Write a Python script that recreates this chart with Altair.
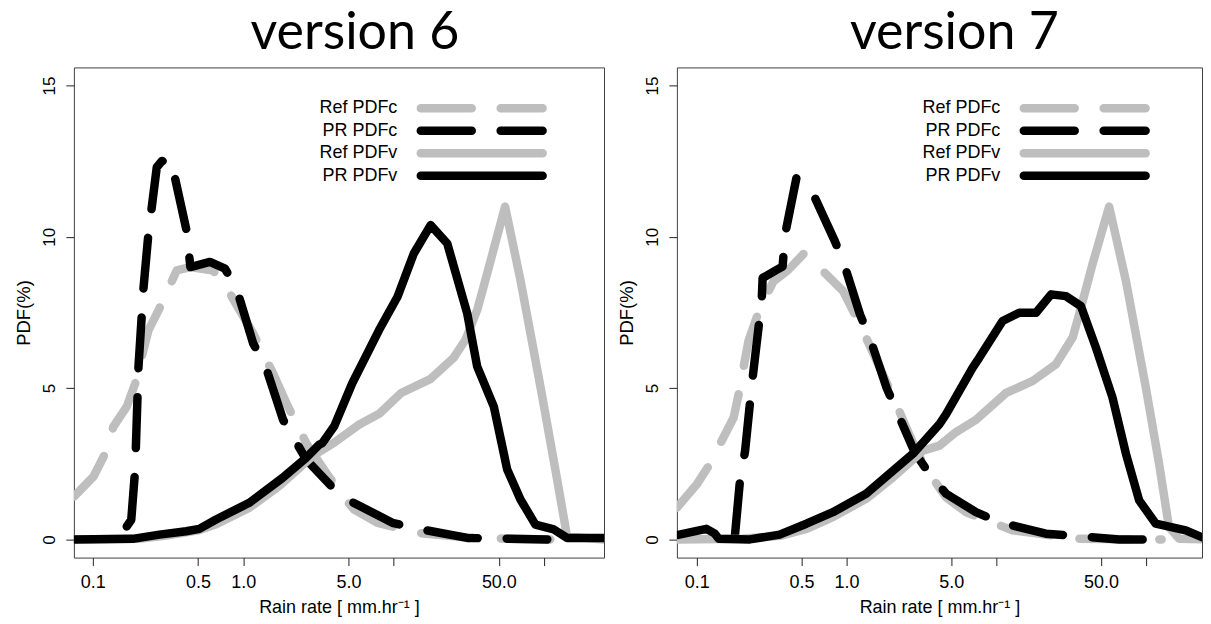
import altair as alt
import pandas as pd

# ---------------- data ----------------
series_names = ["Ref PDFc", "PR PDFc", "Ref PDFv", "PR PDFv"]

# version 6
v6_ref_c_x = [0.075, 0.101, 0.118, 0.137, 0.168, 0.191, 0.234, 0.273, 0.361, 0.443, 0.632, 0.817,
              1.165, 1.58, 1.94, 2.63, 3.57, 4.61, 5.45, 7.8, 14.3, 30, 60, 110]
v6_ref_c_y = [1.42, 2.08, 2.74, 3.73, 4.39, 5.15, 6.91, 7.57, 8.89, 9.0, 8.89, 8.12,
              6.8, 5.48, 4.49, 3.17, 2.19, 1.42, 0.99, 0.55, 0.22, 0.07, 0.02, 0.0]

v6_pr_c_x = [0.168, 0.18, 0.191, 0.201, 0.217, 0.234, 0.266, 0.287, 0.33, 0.42, 0.445, 0.6, 0.756,
             0.903, 1.165, 1.39, 1.84, 2.63, 4.45, 9.8, 13.6, 30.8, 105]
v6_pr_c_y = [0.43, 0.65, 2.3, 5.7, 8.3, 10.1, 12.3, 12.5, 12.57, 10.2, 9.0, 9.17, 8.95,
             8.28, 6.47, 5.8, 3.95, 2.63, 1.43, 0.55, 0.38, 0.05, 0.0]

v6_ref_v_x = [0.075, 0.2, 0.3, 0.5, 0.66, 1.1, 1.73, 2.88, 4.02, 5.9, 8.0, 11.2, 17.5, 25, 30, 36,
              44, 55, 69.6, 94.5, 122, 142, 250]
v6_ref_v_y = [0.0, 0.02, 0.12, 0.3, 0.5, 1.05, 1.76, 2.75, 3.2, 3.8, 4.15, 4.84, 5.3, 6.0, 6.6, 7.6,
              9.2, 11.0, 8.57, 5.05, 1.98, 0.1, 0.0]

v6_pr_v_x = [0.075, 0.184, 0.277, 0.417, 0.51, 0.659, 1.096, 1.82, 2.61, 3.19, 3.36, 4.02, 5.31,
             6.68, 7.99, 10.6, 13.6, 17.6, 22.7, 30.8, 35.9, 46.3, 56.8, 69.6, 87.5, 116, 142, 250]
v6_pr_v_y = [0.0, 0.02, 0.16, 0.27, 0.35, 0.66, 1.21, 2.03, 2.69, 3.13, 3.19, 3.74, 5.17,
             6.15, 6.92, 8.02, 9.45, 10.39, 9.78, 7.47, 5.71, 4.39, 2.31, 1.32, 0.49, 0.33, 0.05, 0.05]

# version 7
v7_ref_c_x = [0.0736, 0.1, 0.12, 0.176, 0.19, 0.221, 0.264, 0.325, 0.408, 0.52, 0.699, 0.95, 1.23,
              1.67, 2.15, 2.93, 3.59, 4.64, 6.28, 12.8, 35.7, 127]
v7_ref_c_y = [1.05, 1.82, 2.43, 4.02, 4.79, 6.55, 7.65, 8.53, 8.91, 9.45, 8.86, 8.2, 7.1,
              5.67, 4.46, 2.92, 2.15, 1.38, 0.9, 0.3, 0.02, 0.0]

v7_pr_c_x = [0.18, 0.194, 0.21, 0.233, 0.258, 0.271, 0.275, 0.341, 0.374, 0.388, 0.462, 0.58,
             0.836, 0.95, 1.23, 1.43, 1.85, 2.21, 2.85, 3.57, 4.62, 7.31, 10.5, 21.4, 66, 127]
v7_pr_c_y = [0.17, 1.93, 2.92, 5.12, 6.99, 7.87, 8.64, 8.91, 9.02, 10.07, 11.94, 11.56,
             9.85, 9.19, 7.43, 6.66, 5.01, 4.13, 2.88, 2.17, 1.51, 0.9, 0.57, 0.19, 0.0, 0.0]

v7_ref_v_x = [0.075, 0.2, 0.36, 0.54, 0.81, 1.35, 2.04, 3.23, 4.17, 5.38, 7.3, 11.6, 17.5, 25,
              32.3, 35.7, 43.8, 56.6, 73.3, 99.5, 122, 142, 166, 250]
v7_ref_v_y = [0.0, 0.02, 0.12, 0.35, 0.74, 1.34, 2.05, 2.93, 3.1, 3.55, 3.95, 4.84, 5.24, 5.79,
              6.67, 7.44, 9.09, 11.0, 8.54, 5.02, 2.5, 0.41, 0.02, 0.0]

v7_pr_v_x = [0.075, 0.1, 0.116, 0.132, 0.14, 0.226, 0.357, 0.539, 0.81, 1.35, 2.04, 2.77, 4.17,
             4.62, 6.95, 7.7, 11.0, 14.2, 18.4, 23.2, 29.1, 36.7, 46.2, 59.6, 73.3, 89.8, 116,
             184, 250]
v7_pr_v_y = [0.15, 0.28, 0.35, 0.19, 0.02, 0.0, 0.16, 0.52, 0.9, 1.51, 2.27, 2.83, 3.81,
             4.14, 5.68, 6.01, 7.22, 7.49, 7.49, 8.1, 8.04, 7.71, 6.34, 4.69, 2.83, 1.29, 0.52,
             0.3, 0.02]

x_tick_values = [0.1, 0.5, 1, 5, 10, 50, 100]
y_tick_values = [0, 5, 10, 15]
panel_titles = ["version 6", "version 7"]

panels_data = [
    {"Ref PDFc": (v6_ref_c_x, v6_ref_c_y), "PR PDFc": (v6_pr_c_x, v6_pr_c_y),
     "Ref PDFv": (v6_ref_v_x, v6_ref_v_y), "PR PDFv": (v6_pr_v_x, v6_pr_v_y)},
    {"Ref PDFc": (v7_ref_c_x, v7_ref_c_y), "PR PDFc": (v7_pr_c_x, v7_pr_c_y),
     "Ref PDFv": (v7_ref_v_x, v7_ref_v_y), "PR PDFv": (v7_pr_v_x, v7_pr_v_y)},
]

# ---------------- styling ----------------
GRAY = "#bebebe"
styles = {
    "Ref PDFc": (GRAY, True),
    "PR PDFc": ("black", True),
    "Ref PDFv": (GRAY, False),
    "PR PDFv": ("black", False),
}
DASH = [51, 29]
LW = 8.5
FONT = "Liberation Sans"
H = 491
WIDTHS = [531, 526]
XDOMS = [[0.0748, 250], [0.0736, 236]]
YDOM = [-0.6, 15.6]
TITLE_DX = [16, 15]

y_scale = alt.Scale(domain=YDOM, nice=False, zero=False)

x_axis = alt.Axis(
    values=x_tick_values,
    labelExpr="(datum.value == 10 || datum.value == 100) ? '' : format(datum.value, '.1f')",
    domain=False, grid=False, tickSize=8, tickColor="#222", tickWidth=1,
    labelFont=FONT, labelFontSize=18, labelColor="black", labelPadding=8,
    labelOverlap=False, labelFlush=False,
    title="Rain rate [ mm.hr⁻¹ ]", titleFont=FONT, titleFontSize=18,
    titleFontWeight="normal", titleColor="black", titlePadding=7,
)
y_axis = alt.Axis(
    values=y_tick_values, domain=False, grid=False, tickSize=8, tickColor="#222", tickWidth=1,
    labelFont=FONT, labelFontSize=17, labelColor="black", labelAngle=270,
    labelAlign="center", labelBaseline="bottom", labelPadding=7,
    labelOverlap=False, labelFlush=False,
    title="PDF(%)", titleFont=FONT, titleFontSize=18.5, titleFontWeight="normal",
    titleColor="black", titlePadding=7,
)

# legend geometry (pixels inside the plot area)
LEG_TEXT_X = 324
LEG_LINE_X1 = 347.5
LEG_LINE_X2 = 469.5
LEG_Y0 = 41
LEG_DY = 22.5


def panel(title, data, dx, width, xdom):
    x_scale = alt.Scale(type="log", domain=xdom, nice=False, zero=False)
    layers = []
    for name in series_names:
        xs, ys = data[name]
        color, dashed = styles[name]
        df = pd.DataFrame({"rate": xs, "pdf": ys, "i": list(range(len(xs)))})
        props = dict(color=color, strokeWidth=LW, strokeCap="round", strokeJoin="round", clip=True)
        if dashed:
            props["strokeDash"] = DASH
        layers.append(
            alt.Chart(df).mark_line(**props).encode(
                x=alt.X("rate:Q", scale=x_scale, axis=x_axis),
                y=alt.Y("pdf:Q", scale=y_scale, axis=y_axis),
                order="i:Q",
            )
        )
    for k, name in enumerate(series_names):
        color, dashed = styles[name]
        ld = pd.DataFrame({"label": [name]})
        yy = LEG_Y0 + k * LEG_DY
        layers.append(
            alt.Chart(ld).mark_text(align="right", baseline="middle", font=FONT, fontSize=18,
                                    color="black").encode(
                text="label:N", x=alt.value(LEG_TEXT_X), y=alt.value(yy))
        )
        rprops = dict(color=color, strokeWidth=LW, strokeCap="round")
        if dashed:
            rprops["strokeDash"] = DASH
        layers.append(
            alt.Chart(ld).mark_rule(**rprops).encode(
                x=alt.value(LEG_LINE_X1), x2=alt.value(LEG_LINE_X2), y=alt.value(yy))
        )
    return alt.layer(*layers).properties(
        width=width, height=H,
        title=alt.TitleParams(text=title, font="Lato", fontSize=52, fontWeight="normal",
                              color="black", anchor="middle", baseline="bottom", offset=-45,
                              dx=dx),
    )


chart = alt.hconcat(
    *[panel(panel_titles[i], panels_data[i], TITLE_DX[i], WIDTHS[i], XDOMS[i]) for i in range(2)],
    spacing=12,
).properties(
    padding={"left": 6, "top": -2, "right": 0, "bottom": -1}
).configure_view(
    stroke="#404040", strokeWidth=1
)

chart.save("out.html", embed_options={"renderer": "svg", "actions": False})
